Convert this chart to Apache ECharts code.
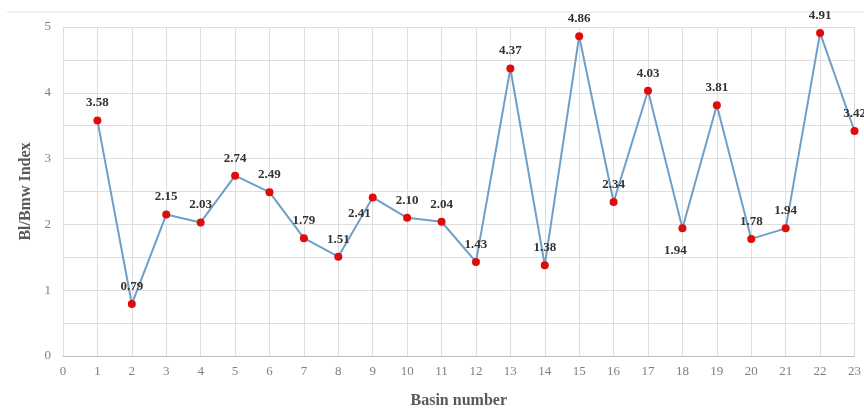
<!DOCTYPE html>
<html>
<head>
<meta charset="utf-8">
<script src="https://cdn.jsdelivr.net/npm/echarts@6/dist/echarts.min.js"></script>
<style>
  html, body { margin: 0; padding: 0; background: #fff; }
  #chart { width: 864px; height: 414px; }
</style>
</head>
<body>
<div id="chart"></div>
<script>
// Basin numbers and their Bl/Bmw index values
const basins = [1, 2, 3, 4, 5, 6, 7, 8, 9, 10, 11, 12, 13, 14, 15, 16, 17, 18, 19, 20, 21, 22, 23];
const indexValues = [3.58, 0.79, 2.15, 2.03, 2.74, 2.49, 1.79, 1.51, 2.41, 2.10, 2.04, 1.43,
                     4.37, 1.38, 4.86, 2.34, 4.03, 1.94, 3.81, 1.78, 1.94, 4.91, 3.42];
const yTicks = [0, 1, 2, 3, 4, 5];

const serif = '"Liberation Serif", "DejaVu Serif", serif';

// Some value labels sit beside or below their markers
const labelTweaks = {
  9: { position: 'left', distance: 2, offset: [4, 16] },
  18: { position: 'bottom', distance: 12, offset: [-7, 0] }
};

const points = basins.map((b, i) => {
  const item = { value: [b, indexValues[i]] };
  if (labelTweaks[b]) item.label = labelTweaks[b];
  return item;
});

const chart = echarts.init(document.getElementById('chart'), null, { renderer: 'canvas' });
chart.setOption({
  animation: false,
  backgroundColor: '#ffffff',
  grid: { left: 63, right: 7, top: 27, bottom: 54, containLabel: false },
  graphic: [{
    type: 'line',
    shape: { x1: 7, y1: 12, x2: 864, y2: 12 },
    style: { stroke: '#e2e2e2', lineWidth: 1 },
    silent: true
  }],
  xAxis: {
    type: 'value',
    min: 0,
    max: 23,
    interval: 1,
    name: 'Basin number',
    nameLocation: 'middle',
    nameGap: 37,
    nameTextStyle: { fontFamily: serif, fontWeight: 'bold', fontSize: 16, color: '#595959' },
    axisLine: { show: true, lineStyle: { color: '#bfbfbf', width: 1 } },
    axisTick: { show: false },
    axisLabel: { fontFamily: serif, fontSize: 13, color: '#7f7f7f', margin: 9 },
    splitLine: { show: true, lineStyle: { color: '#dedede', width: 1 } }
  },
  yAxis: {
    type: 'value',
    min: 0,
    max: 5,
    interval: 0.5,
    name: 'Bl/Bmw Index',
    nameLocation: 'middle',
    nameGap: 28,
    nameTextStyle: { fontFamily: serif, fontWeight: 'bold', fontSize: 16, color: '#595959' },
    axisLine: { show: false },
    axisTick: { show: false },
    axisLabel: {
      fontFamily: serif, fontSize: 13, color: '#7f7f7f', margin: 12,
      formatter: v => (yTicks.indexOf(v) >= 0 ? String(v) : '')
    },
    splitLine: { show: true, lineStyle: { color: '#dedede', width: 1 } }
  },
  series: [{
    type: 'line',
    data: points,
    symbol: 'circle',
    symbolSize: 8,
    lineStyle: { color: '#6f9fc8', width: 2 },
    itemStyle: { color: '#e00b0b', borderWidth: 0 },
    label: {
      show: true,
      position: 'top',
      distance: 7,
      fontFamily: serif,
      fontWeight: 'bold',
      fontSize: 13,
      color: '#333333',
      formatter: p => p.value[1].toFixed(2)
    },
    z: 3
  }]
});
</script>
</body>
</html>
